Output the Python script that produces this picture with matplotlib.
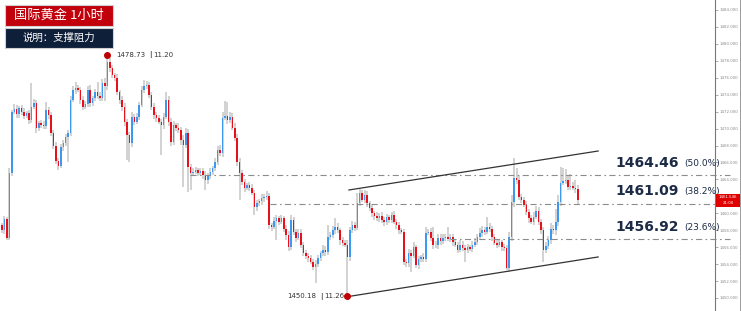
import matplotlib
matplotlib.use('Agg')
import matplotlib.pyplot as plt
from matplotlib.patches import Rectangle
from matplotlib.lines import Line2D
import numpy as np

plt.rcParams['font.family'] = ['Noto Sans CJK SC', 'DejaVu Sans']

# 1小时K线（收盘价），开盘价取上一根收盘
first_open = 1458.6
closes = [
    1458.0, 1459.3, 1457.1, 1464.8, 1472.0, 1472.3, 1471.7, 1472.4, 1471.9, 1471.5,
    1471.8, 1471.0, 1472.6, 1473.0, 1470.1, 1470.6, 1470.4, 1470.3, 1472.2, 1471.6,
    1469.5, 1467.9, 1466.2, 1465.6, 1467.8, 1468.3, 1469.0, 1469.5, 1473.4, 1474.5,
    1474.8, 1474.6, 1473.4, 1472.6, 1472.9, 1474.6, 1473.0, 1473.6, 1474.3, 1473.8,
    1473.6, 1475.4, 1475.0, 1477.9, 1477.2, 1476.3, 1476.0, 1474.3, 1473.4, 1472.5,
    1470.8, 1469.2, 1468.3, 1471.4, 1470.8, 1471.4, 1472.8, 1474.6, 1475.0, 1475.1,
    1474.0, 1472.5, 1471.6, 1471.2, 1470.8, 1470.4, 1471.4, 1473.4, 1470.8, 1468.4,
    1470.4, 1470.1, 1469.8, 1468.7, 1468.1, 1469.5, 1465.5, 1464.8, 1464.9, 1465.1,
    1464.8, 1465.0, 1464.5, 1463.9, 1464.4, 1464.9, 1465.3, 1466.1, 1467.5, 1467.1,
    1471.3, 1471.5, 1471.0, 1471.4, 1470.1, 1468.9, 1466.1, 1464.8, 1463.7, 1463.0,
    1463.3, 1463.0, 1462.4, 1460.7, 1461.2, 1461.4, 1461.8, 1461.9, 1462.0, 1458.6,
    1458.4, 1459.1, 1459.4, 1459.0, 1459.4, 1458.2, 1457.4, 1456.0, 1459.2, 1457.8,
    1457.1, 1457.7, 1456.3, 1455.3, 1455.0, 1454.7, 1454.3, 1453.7, 1454.0, 1454.7,
    1455.3, 1455.7, 1455.4, 1457.2, 1457.4, 1458.0, 1458.4, 1458.0, 1456.8, 1456.5,
    1456.3, 1454.8, 1458.0, 1458.6, 1458.3, 1461.2, 1462.4, 1461.6, 1462.2, 1461.2,
    1460.6, 1460.0, 1459.7, 1459.4, 1459.7, 1459.2, 1459.0, 1459.5, 1459.2, 1459.8,
    1459.0, 1458.6, 1458.0, 1457.8, 1454.3, 1454.1, 1455.3, 1455.0, 1456.0, 1453.9,
    1454.6, 1454.8, 1454.6, 1457.7, 1457.8, 1457.1, 1456.3, 1456.2, 1457.1, 1456.7,
    1457.1, 1457.2, 1457.0, 1457.2, 1456.6, 1456.3, 1455.7, 1456.3, 1455.9, 1455.7,
    1456.0, 1455.8, 1456.3, 1456.6, 1457.2, 1457.7, 1458.0, 1457.8, 1458.4, 1458.2,
    1457.2, 1456.5, 1456.3, 1456.6, 1456.0, 1455.9, 1453.5, 1457.2, 1461.3, 1464.2,
    1463.9, 1461.9, 1461.6, 1461.0, 1460.2, 1459.4, 1459.0, 1459.6, 1460.3, 1459.0,
    1458.0, 1455.7, 1456.1, 1456.9, 1458.2, 1458.0, 1459.0, 1461.3, 1463.6, 1463.8,
    1463.9, 1463.1, 1463.2, 1463.0, 1462.9, 1461.55,
]
# 上影线 / 下影线长度
wick_up = [
    0.3, 0.4, 0.3, 0.5, 0.2, 0.6, 0.5, 0.3, 0.4, 0.5,
    0.3, 0.4, 2.8, 0.5, 0.4, 0.3, 0.4, 0.5, 0.9, 0.3,
    0.4, 0.3, 0.5, 0.3, 0.4, 0.3, 0.4, 0.3, 0.4, 0.5,
    0.7, 0.4, 0.3, 0.5, 0.3, 0.4, 0.5, 0.3, 0.4, 1.2,
    0.5, 0.4, 0.6, 0.83, 0.4, 0.3, 0.3, 0.4, 0.3, 0.4,
    0.5, 0.3, 0.4, 0.5, 0.3, 0.4, 0.3, 0.4, 0.7, 0.5,
    0.4, 0.3, 0.5, 0.3, 0.4, 0.3, 0.4, 0.9, 0.5, 0.4,
    0.5, 0.3, 0.6, 0.4, 0.5, 0.6, 0.4, 0.3, 0.5, 0.4,
    0.3, 0.4, 0.3, 0.5, 0.3, 0.4, 0.3, 0.4, 0.5, 0.6,
    0.7, 1.8, 1.6, 0.5, 0.4, 0.6, 0.5, 0.4, 0.3, 0.4,
    0.3, 0.4, 0.5, 0.3, 0.4, 0.3, 0.5, 0.4, 0.6, 0.4,
    0.3, 0.5, 0.4, 0.3, 0.4, 0.3, 0.4, 0.5, 0.6, 0.4,
    0.3, 0.5, 0.4, 0.3, 0.4, 0.3, 0.4, 0.3, 0.5, 0.4,
    0.3, 0.5, 0.4, 1.4, 0.4, 0.5, 1.0, 0.4, 0.3, 0.4,
    0.3, 0.5, 0.4, 0.5, 0.4, 1.2, 0.5, 0.4, 0.6, 0.4,
    0.3, 0.4, 0.3, 0.4, 0.3, 0.4, 0.3, 0.4, 0.3, 0.4,
    0.5, 0.3, 0.4, 0.3, 0.4, 0.3, 0.5, 0.4, 0.6, 0.3,
    0.4, 0.3, 0.5, 0.7, 0.4, 0.5, 1.3, 0.4, 0.5, 0.4,
    0.5, 0.4, 1.2, 0.4, 0.3, 0.4, 0.3, 0.5, 0.4, 0.3,
    0.4, 0.3, 0.4, 0.5, 0.4, 0.6, 0.5, 0.4, 1.2, 0.4,
    0.3, 0.4, 0.3, 0.4, 0.3, 0.4, 0.3, 0.6, 0.8, 2.3,
    1.2, 0.5, 0.4, 0.3, 0.4, 0.3, 0.4, 0.5, 0.6, 0.4,
    0.3, 0.4, 0.5, 0.4, 0.6, 0.4, 1.5, 0.8, 1.9, 1.5,
    1.3, 0.6, 1.4, 0.5, 0.9, 0.4,
]
wick_dn = [
    0.3, 0.4, 0.25, 0.3, 0.4, 0.3, 0.5, 0.4, 0.3, 0.4,
    0.3, 0.5, 0.4, 0.3, 0.6, 0.4, 0.3, 0.4, 0.3, 0.5,
    0.4, 0.3, 0.4, 0.5, 0.3, 0.4, 0.3, 2.9, 0.4, 0.3,
    0.4, 0.3, 0.5, 0.4, 0.3, 0.4, 0.5, 0.3, 0.4, 0.3,
    0.4, 0.3, 1.8, 0.4, 0.5, 0.3, 0.4, 0.3, 0.5, 0.4,
    0.5, 2.9, 2.2, 0.5, 0.4, 0.3, 0.4, 0.3, 0.4, 0.3,
    0.4, 0.3, 0.5, 0.4, 0.3, 3.5, 0.4, 0.3, 0.5, 0.4,
    0.3, 0.4, 0.3, 0.6, 5.0, 0.4, 3.0, 2.1, 0.4, 0.3,
    0.4, 0.3, 0.5, 1.2, 0.4, 0.3, 0.4, 0.3, 0.4, 0.3,
    0.4, 0.3, 0.5, 0.4, 0.3, 0.4, 0.5, 3.2, 0.4, 0.5,
    0.3, 0.4, 0.3, 0.9, 0.4, 0.3, 0.4, 0.5, 0.3, 0.4,
    0.5, 0.3, 2.2, 0.4, 0.3, 0.4, 0.5, 0.4, 0.3, 0.4,
    0.5, 0.3, 0.4, 0.3, 0.4, 0.5, 0.3, 0.4, 1.9, 0.4,
    0.3, 0.4, 0.5, 0.3, 0.4, 0.3, 0.4, 0.3, 0.5, 0.4,
    0.3, 4.62, 0.4, 0.3, 0.4, 0.3, 0.4, 0.3, 0.4, 0.5,
    0.3, 0.4, 0.5, 0.3, 0.4, 0.3, 0.5, 0.4, 0.3, 0.4,
    0.3, 0.4, 0.5, 0.3, 0.4, 0.5, 0.4, 1.9, 0.3, 0.4,
    0.5, 0.4, 0.3, 0.4, 0.3, 0.4, 0.5, 0.3, 0.4, 0.5,
    0.3, 0.4, 0.3, 0.4, 0.5, 0.3, 0.4, 0.3, 0.4, 1.5,
    0.4, 0.3, 0.4, 0.3, 0.4, 0.3, 0.5, 0.4, 0.3, 0.4,
    0.5, 0.3, 0.4, 0.3, 0.4, 0.3, 0.2, 0.4, 0.5, 0.6,
    0.4, 0.3, 0.4, 0.3, 0.4, 0.5, 0.3, 0.4, 0.3, 0.4,
    0.5, 1.5, 0.4, 0.3, 0.5, 0.4, 0.6, 0.5, 0.4, 0.3,
    0.4, 0.3, 0.4, 0.3, 0.5, 0.4,
]

# 斐波那契支撑阻力位
fib_levels = [1464.46, 1461.09, 1456.92]
fib_pcts = ['(50.0%)', '(38.2%)', '(23.6%)']
fib_start = [76.7, 109.4, 183.0]

# 高低点标注
high_idx, high_val, high_date = 43, 1478.73, '11.20'
low_idx, low_val, low_date = 141, 1450.18, '11.26'

# 上升通道
channel_x = [141.6, 243.3]
channel_upper = [1462.75, 1467.35]
channel_lower = [1450.18, 1454.84]

yticks = np.arange(1450, 1486, 2)
last_price = '1461.546'
countdown = '21:00'

W, H = 741, 311
fig = plt.figure(figsize=(W / 100, H / 100), dpi=100)
ax = fig.add_axes([0, 0, 715 / W, 1])

closes = np.array(closes)
opens = np.r_[first_open, closes[:-1]]
x = np.arange(len(closes))
highs = np.maximum(opens, closes) + np.array(wick_up)
lows = np.minimum(opens, closes) - np.array(wick_dn)

ax.vlines(x, lows, highs, color='#c6c6c6', lw=1.1, zorder=1)
body = closes - opens
body = np.where(np.abs(body) < 0.1, np.where(body >= 0, 0.1, -0.1), body)
colors = np.where(closes >= opens, '#3d98f0', '#e8111b')
ax.bar(x, body, bottom=opens, width=0.62, color=colors, linewidth=0, zorder=2)

# 斐波那契线
for lvl, pct, st in zip(fib_levels, fib_pcts, fib_start):
    ax.plot([st, 297], [lvl, lvl], color='#8c8c8c', lw=0.8,
            linestyle=(0, (5.5, 3, 1.5, 3)), clip_on=False, zorder=3)
    ax.text(250.2, lvl + 1.5, f'{lvl:.2f}', fontsize=10, fontweight='bold',
            color='#1b2a45', va='center', ha='left', family='DejaVu Sans')
    ax.text(278.6, lvl + 1.45, pct, fontsize=6.5, color='#1b2a45',
            va='center', ha='left', family='DejaVu Sans')

# 通道线
ax.plot(channel_x, channel_upper, color='#333333', lw=0.9, zorder=3)
ax.plot(channel_x, channel_lower, color='#333333', lw=0.9, zorder=3)

# 高低点
ax.plot([high_idx, low_idx], [high_val, low_val], 'o', color='#c00000',
        markersize=4, zorder=5)
note = dict(fontsize=5, color='#333333', va='center', family='DejaVu Sans')
ax.text(46.5, high_val, f'{high_val:.2f}', **note)
ax.text(60.2, high_val, '|', fontweight='bold', **note)
ax.text(61.8, high_val, high_date, **note)
ax.text(116.3, low_val, f'{low_val:.2f}', **note)
ax.text(129.9, low_val, '|', fontweight='bold', **note)
ax.text(131.6, low_val, low_date, **note)

ax.set_xlim(-0.82, 291.0)
ax.set_ylim(1448.46, 1485.18)
ax.yaxis.tick_right()
ax.set_yticks(yticks)
ax.set_yticklabels([f'{v:.3f}' for v in yticks], family='DejaVu Sans')
ax.tick_params(axis='y', labelsize=2.8, colors='#8a8a8a', length=2,
               width=0.5, pad=1.5)
ax.set_xticks([])
for s in ['top', 'left', 'bottom']:
    ax.spines[s].set_visible(False)
ax.spines['right'].set_color('#777777')
ax.spines['right'].set_linewidth(0.8)


def px_rect(x0, y0, x1, y1, **kw):
    return Rectangle((x0 / W, 1 - y1 / H), (x1 - x0) / W, (y1 - y0) / H,
                     transform=fig.transFigure, **kw)


# 标题框
fig.add_artist(px_rect(5, 5, 113, 26, facecolor='#c1000b',
                       edgecolor='#d0d0d0', lw=0.8))
fig.text(59 / W, 1 - 15.5 / H, '国际黄金 1小时', color='white', fontsize=9.5,
         ha='center', va='center')
fig.add_artist(px_rect(5, 28, 113, 48, facecolor='#0e1f3a',
                       edgecolor='#d0d0d0', lw=0.8))
fig.text(59 / W, 1 - 38 / H, '说明：支撑阻力', color='white', fontsize=7.5,
         ha='center', va='center')

# 最新价标签
fig.add_artist(px_rect(716, 193.5, 740, 199.8, facecolor='#e00000', lw=0))
fig.add_artist(px_rect(716, 200.2, 740, 206.5, facecolor='#e00000', lw=0))
fig.text(728 / W, 1 - 196.7 / H, last_price, color='white', fontsize=2.8,
         ha='center', va='center', family='DejaVu Sans')
fig.text(728 / W, 1 - 203.4 / H, countdown, color='white', fontsize=2.8,
         ha='center', va='center', family='DejaVu Sans')

fig.add_artist(Line2D([740.2 / W, 740.2 / W], [0, 1], color='#9a9a9a',
                      lw=0.7, transform=fig.transFigure))

fig.savefig('out.png', dpi=100)
